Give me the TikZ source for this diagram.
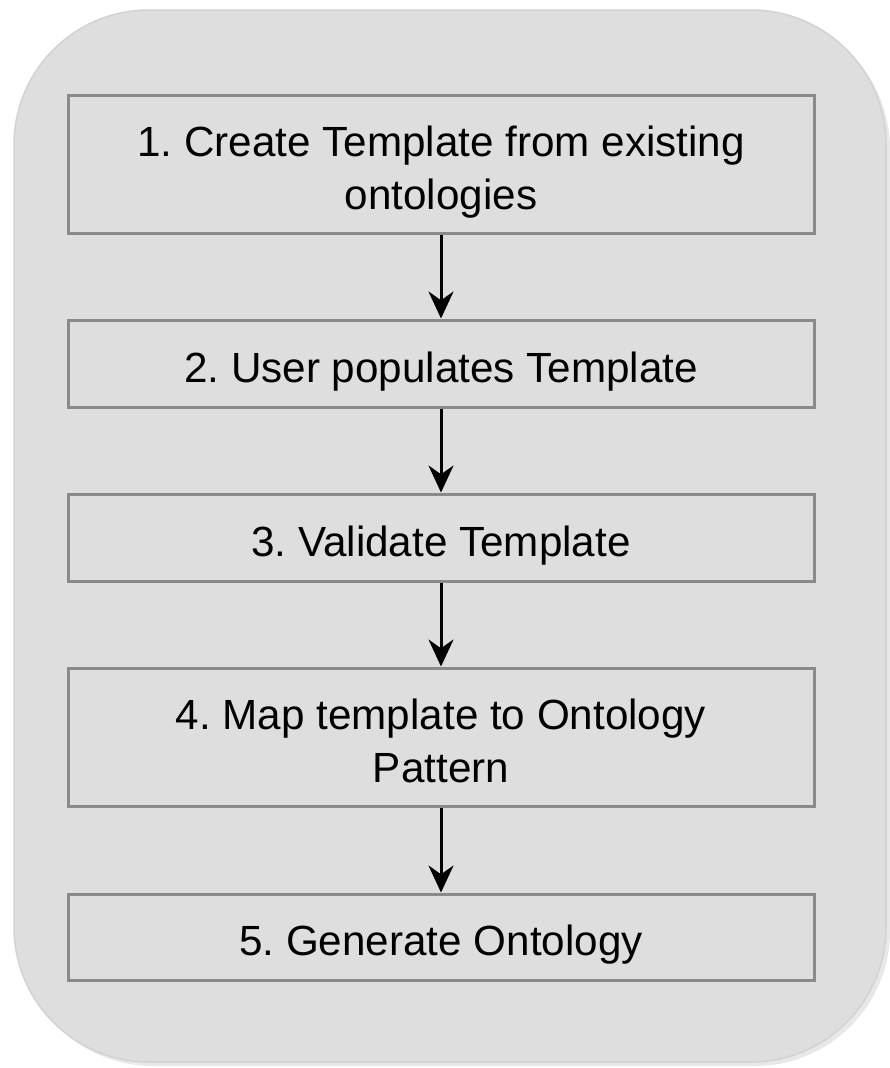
\documentclass[tikz,border=0pt]{standalone}
\usepackage{fontspec}
\setmainfont{Liberation Sans}
\usetikzlibrary{arrows.meta}
\definecolor{panelgray}{HTML}{DEDEDE}
\definecolor{paneledge}{HTML}{D2D2D2}
\definecolor{boxedge}{HTML}{8A8A8A}
% centred block of lines, set a little below the optical centre of its box
\newcommand{\steplines}[1]{\raisebox{-8pt}[\height][\depth]{\begin{tabular}{@{}c@{}}#1\end{tabular}}}
\tikzset{
  stepbox/.style={draw=boxedge, line width=3pt, fill=panelgray,
    minimum width=746pt, inner sep=0pt, align=center,
    font=\fontsize{42.2}{53}\selectfont\frenchspacing, text=black},
  flow/.style={line width=3pt, -{Stealth[length=27pt,width=25pt]}}
}
\begin{document}
\begin{tikzpicture}[x=1pt,y=-1pt]
  \useasboundingbox (0,0) rectangle (890,1068);
  % outer panel with soft shadow
  \fill[black!9, rounded corners=135pt] (18,14) rectangle (890,1066);
  \filldraw[fill=panelgray, draw=paneledge, line width=1.5pt, rounded corners=135pt]
    (14,10) rectangle (886,1062);
  % steps
  \node[stepbox, minimum height=138pt] (s1) at (441,164) {\steplines{1. Create Template from existing\\ontologies}};
  \node[stepbox, minimum height=87pt] (s2) at (441,363.5) {\steplines{2. User populates Template}};
  \node[stepbox, minimum height=87pt] (s3) at (441,537.5) {\steplines{3. Validate Template}};
  \node[stepbox, minimum height=138pt] (s4) at (441,737) {\steplines{4. Map template to Ontology\\Pattern}};
  \node[stepbox, minimum height=86pt] (s5) at (441,937) {\steplines{5. Generate Ontology}};
  % connectors
  \draw[flow] (s1.south) -- (s2.north);
  \draw[flow] (s2.south) -- (s3.north);
  \draw[flow] (s3.south) -- (s4.north);
  \draw[flow] (s4.south) -- (s5.north);
\end{tikzpicture}
\end{document}
